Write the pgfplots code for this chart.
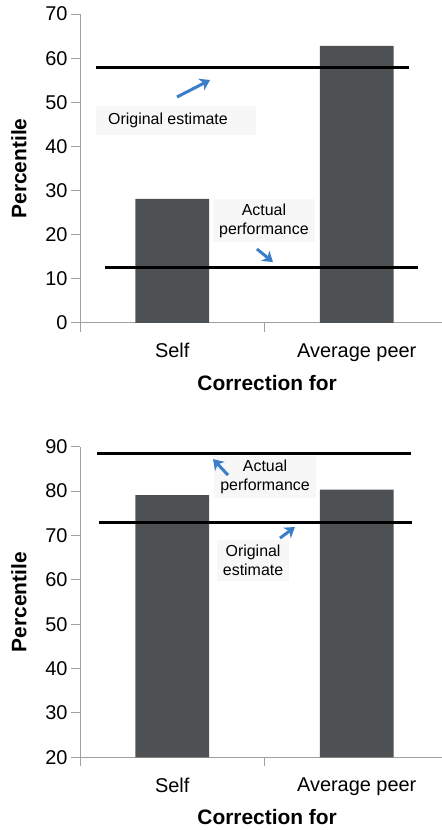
\documentclass[border=0pt]{standalone}
\usepackage{fontspec}
\setmainfont{Liberation Sans}
\usepackage{pgfplots}
\pgfplotsset{compat=1.18}
\usetikzlibrary{arrows.meta}
\definecolor{barc}{RGB}{78,81,83}
\definecolor{axc}{RGB}{160,160,160}
\definecolor{arc}{RGB}{58,125,200}
\definecolor{boxc}{RGB}{247,247,247}
\tikzset{
 ann/.style={fill=boxc, font=\fontsize{16}{19}\selectfont, align=center},
 arr/.style={arc, line width=3bp, -{Stealth[length=10bp,width=13bp,inset=3bp]}},
}
\pgfplotsset{
 myax/.style={
  scale only axis, width=362bp,
  axis lines*=left,
  axis line style={axc, line width=1bp},
  xmin=-0.5, xmax=1.462,
  xtick={0,1}, xticklabels={Self, Average peer},
  major x tick style={draw=none},
  minor xtick={-0.5,0.5},
  minor x tick style={axc, line width=1bp},
  ytick style={axc, line width=1bp},
  tick align=outside,
  major tick length=9bp, minor tick length=9bp,
  tick label style={font=\fontsize{20}{23}\selectfont},
  xticklabel style={yshift=-8bp},
  /pgf/number format/assume math mode=true,
  xlabel={Correction for}, ylabel={Percentile},
  label style={font=\fontsize{21}{24}\selectfont\bfseries},
  clip=false,
 },
 bars/.style={ybar, bar width=0.4, bar shift=0pt, fill=barc, draw=none},
 hline/.style={black, line width=3bp, mark=none},
}
\begin{document}
\begin{tikzpicture}
\path[use as bounding box] (0,0) rectangle (442bp,830bp);
% top chart
\begin{axis}[myax, at={(80bp,507bp)}, anchor=south west, height=309bp,
  ymin=0, ymax=70, ytick={0,10,...,70},
  xlabel style={at={(axis description cs:0.517,-0.194)}, anchor=center},
  ylabel style={at={(axis description cs:-0.1685,0.5)}, anchor=center}]
\addplot[bars] coordinates {(0,28.1) (1,62.8)};
\addplot[hline] coordinates {(-0.413,57.8) (1.283,57.8)};
\addplot[hline] coordinates {(-0.364,12.5) (1.332,12.5)};
\node[ann, inner xsep=12bp, inner ysep=7bp] at (axis cs:0.02,45.8) {Original estimate\hspace{16bp}};
\node[ann, inner xsep=6bp, inner ysep=5bp] at (axis cs:0.497,23.2) {Actual\\performance};
\draw[arr] (axis cs:0.026,51.2) -- (axis cs:0.205,55.05);
\draw[arr] (axis cs:0.459,16.76) -- (axis cs:0.546,13.8);
\end{axis}
% bottom chart
\begin{axis}[myax, at={(80bp,72.7bp)}, anchor=south west, height=310.6bp,
  ymin=20, ymax=90, ytick={20,30,...,90},
  xlabel style={at={(axis description cs:0.517,-0.191)}, anchor=center},
  ylabel style={at={(axis description cs:-0.1685,0.5)}, anchor=center}]
\addplot[bars] coordinates {(0,79.1) (1,80.3)};
\addplot[hline] coordinates {(-0.408,88.5) (1.294,88.5)};
\addplot[hline] coordinates {(-0.397,73.0) (1.30,73.0)};
\node[ann, inner xsep=6bp, inner ysep=4bp] at (axis cs:0.503,83.1) {Actual\\performance};
\node[ann, inner xsep=6bp, inner ysep=5bp] at (axis cs:0.438,64.4) {Original\\estimate};
\draw[arr] (axis cs:0.302,83.6) -- (axis cs:0.221,87.2);
\draw[arr] (axis cs:0.584,69.4) -- (axis cs:0.665,71.9);
\end{axis}
\end{tikzpicture}
\end{document}
